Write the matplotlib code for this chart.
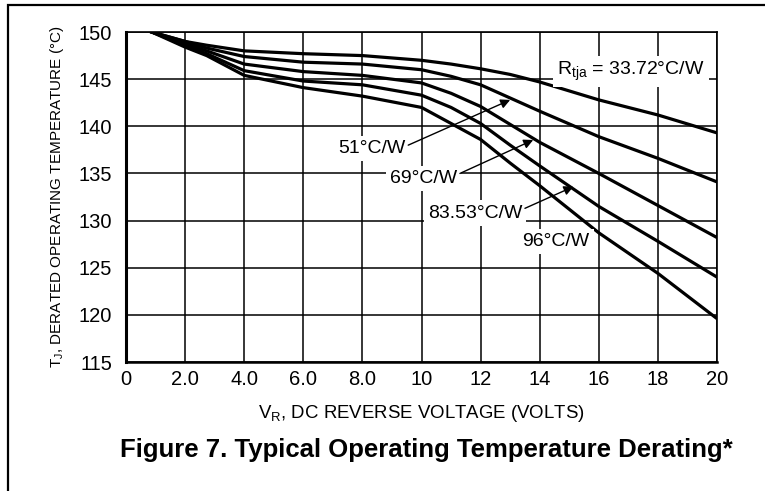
import matplotlib
matplotlib.use("Agg")
import matplotlib.pyplot as plt
from matplotlib.patches import Rectangle

plt.rcParams["font.family"] = ["Liberation Sans", "DejaVu Sans"]
plt.rcParams["mathtext.fontset"] = "custom"
plt.rcParams["mathtext.rm"] = "Liberation Sans"

# Data (V_R in volts, T_J in deg C)
v = [0.87, 2.0, 2.73, 4.0, 6.0, 8.0, 10.0, 11.0, 12.0, 13.0, 14.0, 16.0, 18.0, 20.0]
t_3372 = [150, 149.0, 148.6, 148.0, 147.7, 147.5, 147.0, 146.6, 146.1, 145.5, 144.7, 142.8, 141.2, 139.3]
t_51 = [150, 149.0, 148.3, 147.4, 146.8, 146.6, 146.0, 145.3, 144.4, 143.0, 141.6, 138.9, 136.6, 134.1]
t_69 = [150, 148.8, 148.0, 146.6, 145.8, 145.4, 144.6, 143.5, 142.1, 140.2, 138.3, 135.0, 131.6, 128.2]
t_8353 = [150, 148.6, 147.7, 145.9, 144.8, 144.4, 143.3, 142.0, 140.3, 138.0, 135.8, 131.5, 127.8, 124.0]
t_96 = [150, 148.4, 147.5, 145.4, 144.1, 143.2, 142.0, 140.3, 138.6, 136.1, 133.7, 128.7, 124.4, 119.6]

x_ticks = [0, 2, 4, 6, 8, 10, 12, 14, 16, 18, 20]
x_labels = ["0", "2.0", "4.0", "6.0", "8.0", "10", "12", "14", "16", "18", "20"]
y_ticks = [115, 120, 125, 130, 135, 140, 145, 150]

fig = plt.figure(figsize=(7.65, 4.91), dpi=100)
ax = fig.add_axes([0.1647, 0.2627, 0.7726, 0.6721])

# outer frame of the figure
fig.patches.append(Rectangle((8 / 765, -0.05), 1.2, 1.05 - 5 / 491, transform=fig.transFigure,
                             fill=False, ec="black", lw=1.6))

for t in [t_3372, t_51, t_69, t_8353, t_96]:
    ax.plot(v, t, color="black", lw=2.3, solid_joinstyle="round", zorder=3)

ax.set_xlim(0, 20)
ax.set_ylim(115, 150)
ax.set_xticks(x_ticks)
ax.set_xticklabels(x_labels)
ax.set_yticks(y_ticks)
ax.grid(True, color="black", lw=1.1)
ax.tick_params(length=0, labelsize=14.5)
ax.tick_params(axis="x", pad=6)
ax.tick_params(axis="y", pad=10)
ax.spines["left"].set_linewidth(2.2)
ax.spines["bottom"].set_linewidth(1.8)
ax.spines["top"].set_linewidth(1.2)
ax.spines["right"].set_linewidth(1.2)

ax.set_xlabel(r"V$_{\mathrm{R}}$, DC REVERSE VOLTAGE (VOLTS)", fontsize=13.4, labelpad=10)
ax.set_ylabel(r"T$_{\mathrm{J}}$, DERATED OPERATING TEMPERATURE (°C)",
              fontsize=11, labelpad=9)

box = dict(facecolor="white", edgecolor="none", pad=3)
lab = dict(fontsize=14, ha="center", va="center", bbox=box, zorder=4)
ax.text(17.09, 145.8, r"R$_{\mathrm{tja}}$ = 33.72°C/W", **lab)
ax.text(8.31, 137.67, "51°C/W", **lab)
ax.text(10.06, 134.5, "69°C/W", **lab)
ax.text(11.81, 130.8, "83.53°C/W", **lab)
ax.text(14.55, 127.8, "96°C/W", **lab)

arrow = dict(arrowstyle="-|>", color="black", lw=1.0, mutation_scale=14, shrinkA=0, shrinkB=0)
ax.annotate("", xy=(13.0, 142.8), xytext=(9.55, 138.0), arrowprops=arrow, zorder=5)
ax.annotate("", xy=(13.78, 138.55), xytext=(11.3, 135.0), arrowprops=arrow, zorder=5)
ax.annotate("", xy=(15.14, 133.6), xytext=(13.5, 131.3), arrowprops=arrow, zorder=5)

fig.text(0.5575, 1 - 450 / 491, "Figure 7. Typical Operating Temperature Derating*",
         fontsize=18.5, fontweight="bold", ha="center", va="center")

fig.savefig("out.png", dpi=100)
